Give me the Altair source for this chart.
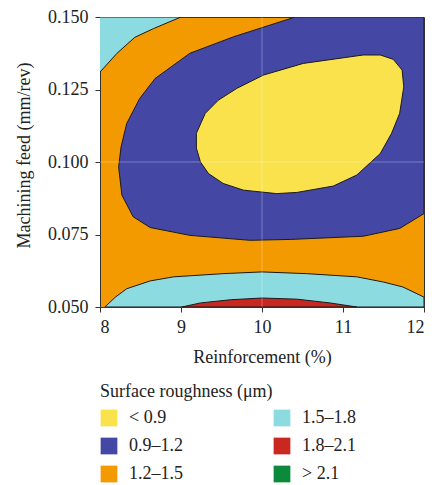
import altair as alt
import pandas as pd

# Contour region outlines (x = reinforcement %, y = feed mm/rev)
cyan_top_x = [8.0, 9.0, 8.66, 8.43, 8.21, 8.0]
cyan_top_y = [0.150, 0.150, 0.146, 0.143, 0.1375, 0.131]

blue_x = [10.41, 12.0, 12.0, 11.70, 11.25, 10.35, 9.85, 9.11, 8.62, 8.41, 8.27, 8.23,
          8.26, 8.33, 8.49, 8.68, 9.11, 9.65, 10.41]
blue_y = [0.150, 0.150, 0.0822, 0.0771, 0.0744, 0.0733, 0.0730, 0.0747, 0.0774, 0.0811,
          0.0886, 0.0983, 0.1052, 0.1133, 0.1219, 0.1288, 0.1375, 0.1432, 0.150]

yellow_x = [10.02, 10.51, 11.25, 11.46, 11.62, 11.73, 11.75, 11.70, 11.60, 11.46, 11.17,
            10.88, 10.43, 10.18, 9.77, 9.52, 9.34, 9.24, 9.19, 9.19, 9.30, 9.46, 9.69, 10.02]
yellow_y = [0.1300, 0.1340, 0.1369, 0.1369, 0.1354, 0.1317, 0.1259, 0.1168, 0.1099, 0.1029,
            0.0955, 0.0917, 0.0895, 0.0891, 0.0903, 0.0926, 0.0960, 0.1000, 0.1048, 0.1099,
            0.1168, 0.1213, 0.1254, 0.1300]

cyan_bot_x = [8.06, 8.19, 8.33, 8.62, 8.91, 9.52, 10.0, 10.55, 11.17, 11.50, 11.74, 12.0, 12.0, 8.06]
cyan_bot_y = [0.050, 0.0534, 0.0563, 0.0590, 0.0604, 0.0615, 0.0621, 0.0615, 0.0604, 0.0586,
              0.0569, 0.0534, 0.050, 0.050]

red_x = [9.01, 9.24, 9.61, 10.0, 10.43, 10.84, 11.17, 9.01]
red_y = [0.050, 0.0514, 0.0525, 0.0531, 0.0527, 0.0514, 0.050, 0.050]

categories = ["< 0.9", "0.9–1.2", "1.2–1.5", "1.5–1.8", "1.8–2.1", "> 2.1"]
cat_colors = ["#FAE24C", "#4447A3", "#F29A00", "#8CDBE1", "#C8281F", "#0B8A3B"]

x_ticks = [8, 9, 10, 11, 12]
y_ticks = [0.050, 0.075, 0.100, 0.125, 0.150]

FONT = "Liberation Serif"

xscale = alt.Scale(domain=[8, 12], nice=False, zero=False)
yscale = alt.Scale(domain=[0.05, 0.15], nice=False, zero=False)
xaxis = alt.Axis(values=x_ticks, format="d", title="Reinforcement (%)", grid=False, tickSize=5,
                 labelPadding=6, domainColor="#333", tickColor="#333",
                 titleX=162, titleY=50, titleAlign="center", titleBaseline="middle")
yaxis = alt.Axis(values=y_ticks, format=".3f", title="Machining feed (mm/rev)", grid=False,
                 tickSize=5, labelPadding=7, domainColor="#333", tickColor="#333",
                 titleX=-76, titleY=138, titleAngle=270, titleAlign="center",
                 titleBaseline="middle")


def poly(xs, ys, color):
    df = pd.DataFrame({"x": xs, "y": ys, "i": list(range(len(xs)))})
    return alt.Chart(df).mark_line(fill=color, stroke="#1a1a1a", strokeWidth=1, clip=True).encode(
        x=alt.X("x:Q", scale=xscale, axis=xaxis),
        y=alt.Y("y:Q", scale=yscale, axis=yaxis),
        order=alt.Order("i:Q"),
    )


layers = [
    poly(cyan_top_x, cyan_top_y, "#8CDBE1"),
    poly(blue_x, blue_y, "#4447A3"),
    poly(yellow_x, yellow_y, "#FAE24C"),
    poly(cyan_bot_x, cyan_bot_y, "#8CDBE1"),
    poly(red_x, red_y, "#C8281F"),
]

vline = alt.Chart(pd.DataFrame({"x": [10]})).mark_rule(color="white", opacity=0.3, strokeWidth=1).encode(
    x=alt.X("x:Q", scale=xscale))
hline = alt.Chart(pd.DataFrame({"y": [0.1]})).mark_rule(color="white", opacity=0.3, strokeWidth=1).encode(
    y=alt.Y("y:Q", scale=yscale))

legend_df = pd.DataFrame({"cat": categories, "x": [10] * 6, "y": [0.1] * 6})
legend_layer = alt.Chart(legend_df).mark_square(size=1, opacity=0).encode(
    x=alt.X("x:Q", scale=xscale),
    y=alt.Y("y:Q", scale=yscale),
    color=alt.Color("cat:N", scale=alt.Scale(domain=categories, range=cat_colors),
                    legend=alt.Legend(title="Surface roughness (μm)", orient="none",
                                      legendX=0, legendY=366, columns=2, columnPadding=90,
                                      symbolType="square", symbolSize=280, symbolOpacity=1,
                                      symbolStrokeWidth=0, rowPadding=10, labelOffset=11,
                                      labelLimit=200)),
)

chart = alt.layer(*layers, vline, hline, legend_layer).properties(
    width=324, height=290,
    autosize=alt.AutoSizeParams(type="none"),
    padding={"left": 100, "top": 17, "right": 10, "bottom": 178},
).configure_view(fill="#F29A00", stroke="#333", strokeWidth=1).configure_axis(
    labelFont=FONT, titleFont=FONT, labelFontSize=18, titleFontSize=18,
    labelColor="#222", titleColor="#222", titleFontWeight="normal",
).configure_legend(
    titleFont=FONT, labelFont=FONT, titleFontSize=18, labelFontSize=18,
    titleFontWeight="normal", titleColor="#222", labelColor="#222", titlePadding=8,
)

chart.save("out.html", embed_options={"renderer": "svg", "actions": False})
